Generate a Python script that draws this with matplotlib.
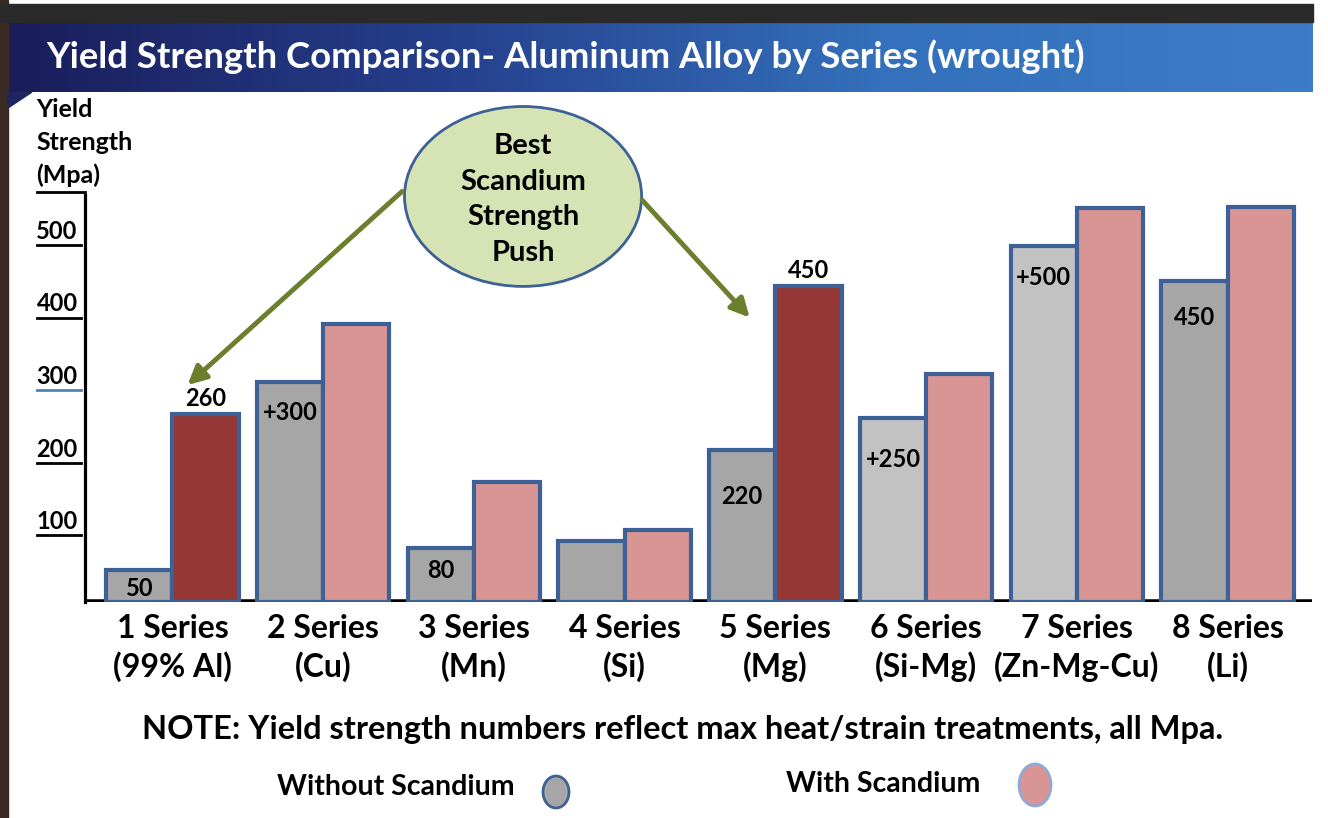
import numpy as np
import matplotlib
matplotlib.use("Agg")
import matplotlib.pyplot as plt
from matplotlib.patches import Ellipse, Rectangle, Polygon
from matplotlib import transforms

# data (Mpa)
series = ["1 Series\n(99% Al)", "2 Series\n(Cu)", "3 Series\n(Mn)", "4 Series\n(Si)",
          "5 Series\n(Mg)", "6 Series\n(Si-Mg)", "7 Series\n(Zn-Mg-Cu)", "8 Series\n(Li)"]
without_sc = [44, 303, 74, 84, 210, 254, 491, 443]
with_sc = [259, 383, 166, 99, 436, 314, 543, 545]
without_labels = ["50", "+300", "80", "", "220", "+250", "+500", "450"]
with_labels = ["260", "", "", "", "450", "", "", ""]
best_push = [0, 4]  # series highlighted in dark red
y_ticks = [100, 200, 300, 400, 500]

plt.rcParams['font.family'] = ['Lato', 'DejaVu Sans']
plt.rcParams['font.weight'] = 'bold'

EDGE = "#3d6196"
GRAY = "#a6a6a6"
LIGHT_GRAY = "#c2c2c2"
PINK = "#d99594"
DARK_RED = "#953735"
OLIVE = "#6b7f2e"

fig = plt.figure(figsize=(13.28, 8.18), dpi=100)
W, H = 1328, 818


def fx(px):
    return px / W


def fy(py):
    return 1 - py / H


# frame + title banner
fig.patches.append(Rectangle((0, fy(818)), fx(8), fy(0) - fy(818), transform=fig.transFigure,
                             color="#3a2b22", zorder=0))
fig.patches.append(Rectangle((0, fy(22)), fx(1313), fy(4) - fy(22), transform=fig.transFigure,
                             color="#2b2a2a", zorder=0))
fig.patches.append(Polygon([(fx(8), fy(92)), (fx(32), fy(92)), (fx(8), fy(108))],
                           transform=fig.transFigure, color="#1f2560", zorder=0))
bax = fig.add_axes([fx(8), fy(92), fx(1305), fy(22) - fy(92)])
grad = np.linspace(0, 1, 256).reshape(1, -1)
cmap = matplotlib.colors.LinearSegmentedColormap.from_list(
    "banner", ["#1a1d5a", "#253f8c", "#3470bb", "#3d7cc9"])
bax.imshow(grad, aspect="auto", cmap=cmap, extent=[0, 1, 0, 1])
bax.axis("off")
bax.text(0.029, 0.5, "Yield Strength Comparison- Aluminum Alloy by Series (wrought)",
         color="white", fontsize=26.3, fontweight="bold", va="center", ha="left")

# main axes
ax = fig.add_axes([fx(85), fy(602), fx(1312) - fx(85), fy(195) - fy(602)])
x = np.arange(len(series))
bw = 0.44
gray_colors = [LIGHT_GRAY if i in (5, 6) else GRAY for i in x]
pink_colors = [DARK_RED if i in best_push else PINK for i in x]

ax.bar(x - bw / 2, without_sc, bw, color=gray_colors, edgecolor=EDGE, linewidth=3, zorder=3)
ax.bar(x + bw / 2, with_sc, bw, color=pink_colors, edgecolor=EDGE, linewidth=3, zorder=3)
ax.axhline(0, color="black", linewidth=4, zorder=2)

ax.set_xlim(-0.58, 7.56)
ax.set_ylim(0, 561)
ax.set_xticks([])
ax.set_yticks([])
for s in ["top", "right", "bottom"]:
    ax.spines[s].set_visible(False)
ax.spines["left"].set_linewidth(2.3)

# value labels
drops = [18, 30, 22, 0, 47, 42, 32, 37]
for i, lab in enumerate(without_labels):
    if lab:
        ax.annotate(lab, (x[i] - bw / 2, without_sc[i]), xytext=(0, -drops[i] * 0.72),
                    textcoords="offset points", ha="center", va="center",
                    fontsize=17, fontweight="bold", zorder=5)
for i, lab in enumerate(with_labels):
    if lab:
        ax.annotate(lab, (x[i] + bw / 2, with_sc[i]), xytext=(0, 11),
                    textcoords="offset points", ha="center", va="center",
                    fontsize=17, fontweight="bold", zorder=5)

# category labels
for i, lab in enumerate(series):
    ax.annotate(lab, (x[i], 0), xytext=(0, -9), textcoords="offset points",
                ha="center", va="top", fontsize=23, fontweight="bold",
                linespacing=1.3, annotation_clip=False)

# y ticks: underlined labels
trans = transforms.blended_transform_factory(ax.transAxes, ax.transData)
for v in y_ticks:
    ax.text(-0.006, v - 5, str(v), transform=trans, ha="right", va="bottom",
            fontsize=17, fontweight="bold", clip_on=False)
    ax.plot([-0.039, -0.003], [v - 8, v - 8], transform=trans, clip_on=False,
            color="#4f81bd" if v == 300 else "black", linewidth=2)
ax.plot([-0.039, 0], [565, 565], transform=trans, clip_on=False, color="black", linewidth=2)
fig.text(fx(36), fy(98), "Yield\nStrength\n(Mpa)", ha="left", va="top",
         fontsize=18, fontweight="bold", linespacing=1.5)

# callout bubble and arrows
ax.add_patch(Ellipse((2.326, 559), 1.573, 248, facecolor="#d6e3b5", edgecolor=EDGE,
                     linewidth=2, clip_on=False, zorder=6))
ax.text(2.326, 555, "Best\nScandium\nStrength\nPush", ha="center", va="center",
        fontsize=21, fontweight="bold", linespacing=1.45, zorder=7, clip_on=False)
arrow = dict(arrowstyle="-|>", color=OLIVE, lw=3.5, mutation_scale=28, shrinkA=0, shrinkB=0)
ax.annotate("", xy=(0.10, 299), xytext=(1.524, 566), arrowprops=arrow,
            annotation_clip=False, zorder=6)
ax.annotate("", xy=(3.83, 392), xytext=(3.116, 554), arrowprops=arrow,
            annotation_clip=False, zorder=6)

# note + legend
fig.text(fx(683), fy(730), "NOTE: Yield strength numbers reflect max heat/strain treatments, all Mpa.",
         ha="center", va="center", fontsize=23.5, fontweight="bold")
fig.text(fx(515), fy(787), "Without Scandium", ha="right", va="center", fontsize=20.5, fontweight="bold")
fig.text(fx(980), fy(784), "With Scandium", ha="right", va="center", fontsize=20.5, fontweight="bold")
fig.patches.append(Ellipse((fx(556), fy(792)), fx(26), fy(0) - fy(32), transform=fig.transFigure,
                           facecolor=GRAY, edgecolor=EDGE, linewidth=2))
fig.patches.append(Ellipse((fx(1035), fy(785)), fx(32), fy(0) - fy(42), transform=fig.transFigure,
                           facecolor=PINK, edgecolor="#8ea8d8", linewidth=2))

fig.savefig("out.png", dpi=100)
